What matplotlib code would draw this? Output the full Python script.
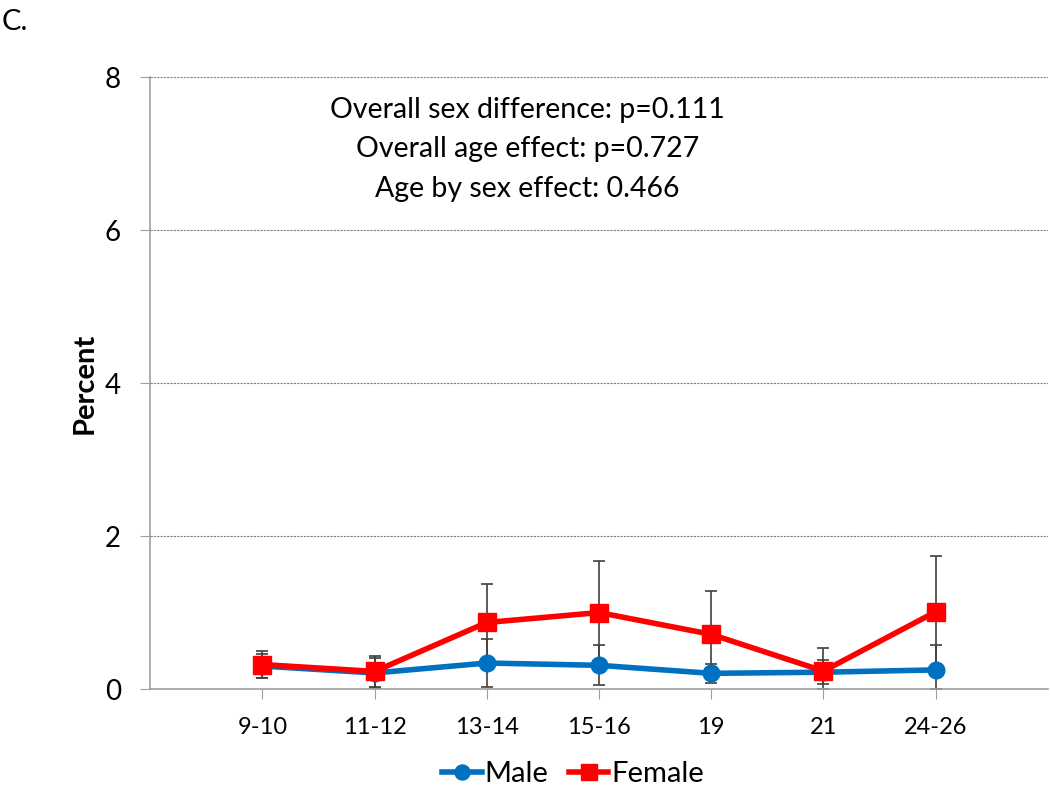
import matplotlib
matplotlib.use("Agg")
import matplotlib.pyplot as plt
import numpy as np

categories = ["9-10", "11-12", "13-14", "15-16", "19", "21", "24-26"]
male = [0.30, 0.21, 0.34, 0.31, 0.205, 0.22, 0.25]
male_err = [0.16, 0.20, 0.31, 0.26, 0.12, 0.16, 0.32]
female = [0.32, 0.23, 0.87, 1.00, 0.715, 0.235, 1.01]
female_err = [0.18, 0.20, 0.50, 0.68, 0.57, 0.30, 0.73]
y_ticks = [0, 2, 4, 6, 8]
annotation = ["Overall sex difference: p=0.111", "Overall age effect: p=0.727", "Age by sex effect: 0.466"]

plt.rcParams['font.family'] = ['Lato', 'DejaVu Sans']

fig = plt.figure(figsize=(10.5, 7.88), dpi=100)
ax = fig.add_axes([0.143, 0.1256, 0.855, 0.7764])
x = np.arange(len(categories))

def clip_err(vals, errs):
    lo = [min(e, v) for v, e in zip(vals, errs)]
    return [lo, errs]

ax.errorbar(x, male, yerr=clip_err(male, male_err), fmt='none', ecolor='#404040',
            elinewidth=1.2, capsize=4, capthick=1.2, zorder=2)
ax.errorbar(x, female, yerr=clip_err(female, female_err), fmt='none', ecolor='#404040',
            elinewidth=1.2, capsize=4, capthick=1.2, zorder=2)
ax.plot(x, male, color='#0070C0', lw=4, marker='o', ms=12, label='Male', zorder=3)
ax.plot(x, female, color='#FF0000', lw=4, marker='s', ms=13, label='Female', zorder=4)

ax.set_xlim(-1, 7)
ax.set_ylim(0, 8)
ax.set_yticks(y_ticks)
ax.set_xticks(x)
ax.set_xticklabels(categories, fontsize=17)
ax.tick_params(axis='y', labelsize=20, length=7, color='#a0a0a0', pad=14)
ax.tick_params(axis='x', length=7, color='#a0a0a0', pad=13)
ax.yaxis.grid(True, color='#808080', lw=0.8, ls=(0, (2, 1)))
ax.set_axisbelow(True)
for s in ['top', 'right']:
    ax.spines[s].set_visible(False)
for s in ['left', 'bottom']:
    ax.spines[s].set_color('#a0a0a0')
    ax.spines[s].set_linewidth(1.2)
ax.set_ylabel('Percent', fontsize=21, fontweight='bold', labelpad=5)

for i, t in enumerate(annotation):
    ax.text(0.42, 0.947 - i * 0.0645, t, transform=ax.transAxes, ha='center', va='center', fontsize=20.5)

fig.text(0.002, 0.988, 'C.', fontsize=21, va='top', ha='left')

fig.legend(loc='center', bbox_to_anchor=(0.546, 0.018), ncol=2, frameon=False,
           fontsize=21, handlelength=1.35, handletextpad=0.1, columnspacing=0.7,
           markerscale=0.9)

fig.savefig('out.png', dpi=100)
